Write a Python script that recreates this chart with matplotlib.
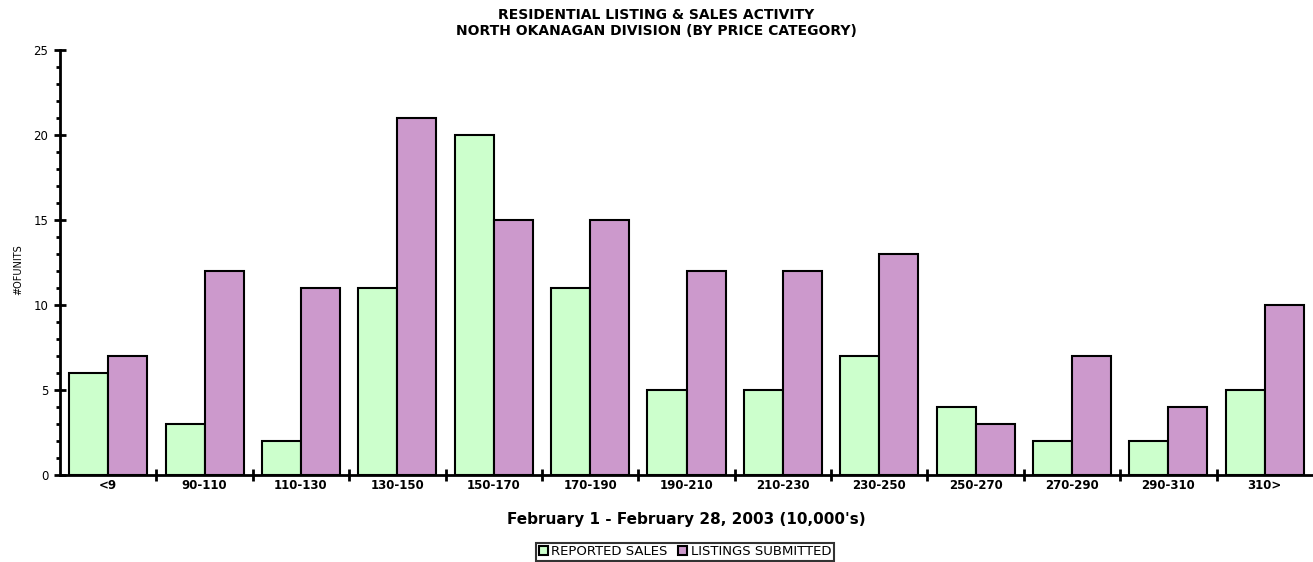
import numpy as np
import matplotlib.pyplot as plt
from matplotlib.patches import Patch
from matplotlib.ticker import MultipleLocator

plt.rcParams['font.family'] = ['DejaVu Sans']

#----- data
categories = ['<9', '90-110', '110-130', '130-150', '150-170', '170-190', '190-210',
              '210-230', '230-250', '250-270', '270-290', '290-310', '310>']
sales = [6, 3, 2, 11, 20, 11, 5, 5, 7, 4, 2, 2, 5]
listings = [7, 12, 11, 21, 15, 15, 12, 12, 13, 3, 7, 4, 10]

green = '#CCFFCC'
purple = '#CC99CC'

fig = plt.figure(figsize=(13.13, 5.62), dpi=100)
ax = fig.add_axes([60/1313, 87/562, 1253/1313, 425/562])

x = np.arange(len(categories))
w = 0.405
ax.bar(x - w/2, sales, w, color=green, edgecolor='black', linewidth=1.5)
ax.bar(x + w/2, listings, w, color=purple, edgecolor='black', linewidth=1.5)

ax.set_xlim(-0.5, len(categories) - 0.5)
ax.set_ylim(0, 25)

#----- spines
for s in ['top', 'right']:
    ax.spines[s].set_visible(False)
ax.spines['left'].set_linewidth(2)
ax.spines['bottom'].set_linewidth(2)

#----- y ticks
ax.yaxis.set_major_locator(MultipleLocator(5))
ax.yaxis.set_minor_locator(MultipleLocator(1))
ax.tick_params(axis='y', which='major', direction='inout', length=9, width=2,
               labelsize=8.5, pad=4)
ax.tick_params(axis='y', which='minor', direction='out', length=3, width=2)

#----- x ticks at group boundaries, labels at centers
ax.set_xticks(np.arange(len(categories) - 1) + 0.5)
ax.set_xticks(x, minor=True)
ax.set_xticklabels([])
ax.set_xticklabels(categories, minor=True, fontsize=8.5, fontweight='bold')
ax.tick_params(axis='x', which='major', direction='inout', length=8, width=2)
ax.tick_params(axis='x', which='minor', length=0, pad=3)

ax.set_xlabel("February 1 - February 28, 2003 (10,000's)", fontsize=11,
              fontweight='bold', labelpad=14)
fig.text(18/1313, 1 - 270/562, '#OFUNITS', rotation=90, fontsize=7,
         ha='center', va='center')

fig.text(0.5, 1 - 23/562,
         'RESIDENTIAL LISTING & SALES ACTIVITY\nNORTH OKANAGAN DIVISION (BY PRICE CATEGORY)',
         fontsize=10, fontweight='bold', ha='center', va='center', linespacing=1.1)

handles = [Patch(facecolor=green, edgecolor='black', linewidth=1.5),
           Patch(facecolor=purple, edgecolor='black', linewidth=1.5)]
leg = fig.legend(handles, ['REPORTED SALES', 'LISTINGS SUBMITTED'], ncol=2,
                 loc='lower center', bbox_to_anchor=(685/1313, 0.002),
                 fontsize=9.5, frameon=True, fancybox=False, handlelength=0.7,
                 handleheight=0.7, handletextpad=0.25, columnspacing=0.8,
                 borderpad=0.2, borderaxespad=0.0)
leg.get_frame().set_edgecolor('black')
leg.get_frame().set_linewidth(1.5)

plt.savefig('out.png', dpi=100)
